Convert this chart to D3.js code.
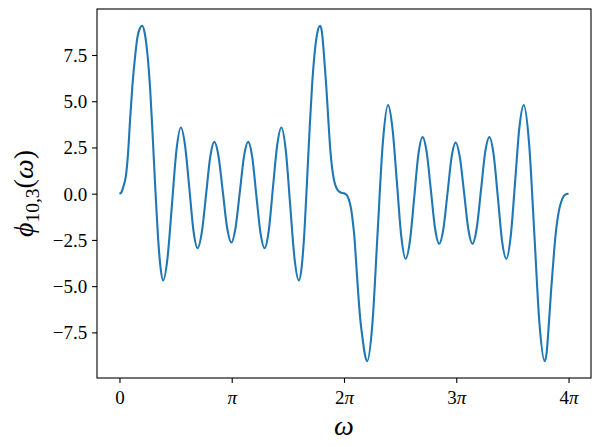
<!DOCTYPE html>
<html>
<head>
<meta charset="utf-8">
<script src="https://cdn.jsdelivr.net/npm/d3@7"></script>
<style>
  html, body { margin: 0; padding: 0; background: #ffffff; }
  svg { display: block; }
  text { font-family: "Liberation Serif", "DejaVu Serif", serif; fill: #000; }
</style>
</head>
<body>
<svg id="chart" width="602" height="447"></svg>
<script>
// omega expressed in multiples of pi
const omegaOverPi = [
  0.000, 0.015, 0.027, 0.042, 0.057, 0.077, 0.095, 0.115, 0.137, 0.160, 0.182, 0.203,
  0.226, 0.250, 0.274, 0.297, 0.320, 0.343, 0.366, 0.389,
  0.428, 0.468, 0.508, 0.547, 0.584, 0.622, 0.659, 0.696,
  0.733, 0.771, 0.808, 0.845, 0.883, 0.921, 0.959, 0.997,
  1.034, 1.072, 1.109, 1.146, 1.183, 1.219, 1.256, 1.292,
  1.330, 1.367, 1.405, 1.442, 1.481, 1.520, 1.559, 1.598,
  1.624, 1.647, 1.670, 1.693, 1.716, 1.740, 1.764, 1.787,
  1.803, 1.820, 1.842, 1.860, 1.880, 1.895, 1.910, 1.925, 1.940, 1.960, 1.978,
  2.000, 2.015, 2.030, 2.045, 2.064, 2.080, 2.093, 2.108, 2.123, 2.145, 2.167, 2.186, 2.206,
  2.253, 2.299, 2.346, 2.392, 2.431, 2.471, 2.510, 2.549,
  2.587, 2.625, 2.662, 2.700, 2.737, 2.774, 2.811, 2.848,
  2.885, 2.922, 2.958, 2.995, 3.032, 3.070, 3.107, 3.144,
  3.182, 3.220, 3.257, 3.295, 3.333, 3.371, 3.408, 3.446,
  3.485, 3.524, 3.562, 3.601, 3.648, 3.695, 3.741, 3.788,
  3.805, 3.825, 3.845, 3.869, 3.885, 3.899, 3.915, 3.934, 3.955, 3.975, 4.000
];
const phiValues = [
  0.00, 0.05, 0.23, 0.52, 0.95, 2.22, 4.03, 5.82, 7.27, 8.45, 8.95, 9.08,
  8.65, 7.50, 5.60, 3.00, 0.20, -2.30, -4.00, -4.69,
  -3.48, -0.56, 2.37, 3.58, 2.62, 0.32, -1.99, -2.95,
  -2.11, -0.08, 1.96, 2.80, 2.00, 0.08, -1.84, -2.64,
  -1.84, 0.08, 2.00, 2.80, 1.96, -0.08, -2.11, -2.95,
  -1.99, 0.32, 2.62, 3.58, 2.37, -0.56, -3.48, -4.69,
  -3.90, -2.10, 0.60, 3.40, 5.90, 7.70, 8.75, 9.08,
  8.75, 7.63, 5.82, 4.03, 2.22, 1.35, 0.77, 0.42, 0.23, 0.10, 0.05,
  0.02, -0.03, -0.12, -0.35, -0.85, -1.60, -2.37, -3.70, -5.07, -6.80, -7.90, -8.70, -9.06,
  -7.03, -2.14, 2.76, 4.79, 3.57, 0.64, -2.30, -3.52,
  -2.56, -0.23, 2.10, 3.06, 2.22, 0.18, -1.87, -2.71,
  -1.91, 0.03, 1.96, 2.76, 1.96, 0.03, -1.91, -2.71,
  -1.87, 0.18, 2.22, 3.06, 2.10, -0.23, -2.56, -3.52,
  -2.30, 0.64, 3.57, 4.79, 2.76, -2.14, -7.03, -9.06,
  -8.60, -7.00, -5.20, -3.30, -2.20, -1.50, -0.90, -0.45, -0.15, -0.04, 0.00
];
const xTickValues = [0, 1, 2, 3, 4];
const xTickNumbers = ["0", "", "2", "3", "4"];
const xTickSymbols = ["", "π", "π", "π", "π"];
const yTickValues = [-7.5, -5.0, -2.5, 0.0, 2.5, 5.0, 7.5];
const yTickLabels = ["−7.5", "−5.0", "−2.5", "0.0", "2.5", "5.0", "7.5"];

const data = omegaOverPi.map((w, i) => ({ w: w, v: phiValues[i] }));

const margin = { left: 97, top: 9, right: 11, bottom: 69 };
const W = 602, H = 447;
const iw = W - margin.left - margin.right;
const ih = H - margin.top - margin.bottom;

const svg = d3.select("#chart");
svg.append("rect").attr("width", W).attr("height", H).attr("fill", "#fff");
const g = svg.append("g").attr("transform", `translate(${margin.left},${margin.top})`);

const xMin = d3.min(omegaOverPi), xMax = d3.max(omegaOverPi);
const xPad = (xMax - xMin) * 0.05;
const yMin = d3.min(phiValues), yMax = d3.max(phiValues);
const yPad = (yMax - yMin) * 0.05;

const x = d3.scaleLinear().domain([xMin - xPad, xMax + xPad]).range([0, iw]);
const y = d3.scaleLinear().domain([yMin - yPad, yMax + yPad]).range([ih, 0]);

const tickLen = 4.9;
const tickPad = 4.9;

// X axis
const xAxis = g.append("g").attr("transform", `translate(0,${ih})`)
  .call(d3.axisBottom(x).tickValues(xTickValues).tickSize(tickLen).tickPadding(tickPad).tickFormat(() => ""));
xAxis.select(".domain").remove();
xAxis.selectAll(".tick line").attr("stroke", "#000").attr("stroke-width", 1.1);
xAxis.selectAll(".tick text").remove();
xAxis.selectAll(".tick").append("text")
  .attr("y", 25.5)
  .attr("text-anchor", "middle")
  .style("font-size", "19px")
  .each(function(d, i) {
    const t = d3.select(this);
    if (xTickNumbers[i]) t.append("tspan").text(xTickNumbers[i]);
    if (xTickSymbols[i]) t.append("tspan").attr("font-style", "italic").text(xTickSymbols[i]);
  });

// Y axis
const yAxis = g.append("g")
  .call(d3.axisLeft(y).tickValues(yTickValues).tickSize(tickLen).tickPadding(tickPad)
    .tickFormat((d, i) => yTickLabels[i]));
yAxis.select(".domain").remove();
yAxis.selectAll(".tick line").attr("stroke", "#000").attr("stroke-width", 1.1);
yAxis.selectAll(".tick text")
  .attr("fill", "#000")
  .attr("dy", "0.34em")
  .style("font-size", "19px")
  .style("font-family", "\"Liberation Serif\", \"DejaVu Serif\", serif");

// Line
const line = d3.line()
  .x(d => x(d.w))
  .y(d => y(d.v))
  .curve(d3.curveMonotoneX);

g.append("path")
  .datum(data)
  .attr("d", line)
  .attr("fill", "none")
  .attr("stroke", "#1f77b4")
  .attr("stroke-width", 2.1)
  .attr("stroke-linejoin", "round")
  .attr("stroke-linecap", "butt");

// Frame (spines)
g.append("rect")
  .attr("x", 0).attr("y", 0).attr("width", iw).attr("height", ih)
  .attr("fill", "none").attr("stroke", "#000").attr("stroke-width", 1.1);

// X label
svg.append("text")
  .attr("x", margin.left + iw / 2)
  .attr("y", 435)
  .attr("text-anchor", "middle")
  .attr("font-style", "italic")
  .style("font-size", "28px")
  .text("ω");

// Y label
const yl = svg.append("text")
  .attr("transform", `translate(33,${margin.top + ih / 2}) rotate(-90)`)
  .attr("text-anchor", "middle")
  .style("font-size", "28px");
yl.append("tspan").attr("font-style", "italic").text("ϕ");
yl.append("tspan").attr("dy", 6).style("font-size", "19.5px").text("10,3");
yl.append("tspan").attr("dy", -6).text("(");
yl.append("tspan").attr("font-style", "italic").text("ω");
yl.append("tspan").text(")");
</script>
</body>
</html>
